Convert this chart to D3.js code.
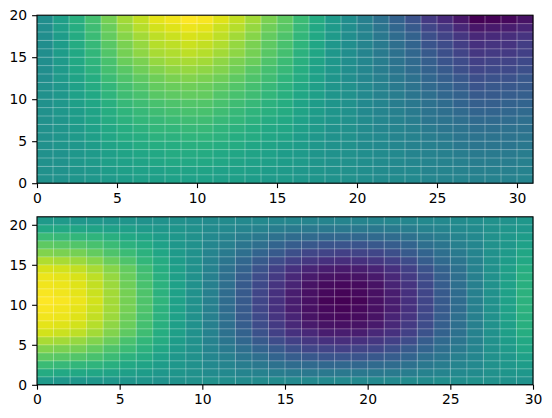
<!DOCTYPE html>
<html>
<head>
<meta charset="utf-8">
<script src="https://cdn.jsdelivr.net/npm/d3@7"></script>
<style>
  body { margin: 0; background: #ffffff; }
  svg { display: block; }
</style>
</head>
<body>
<div id="chart"></div>
<script>
// Cell values (0 = darkest purple, 100 = brightest yellow).
// Each array is one row of cells, listed from the bottom row (y = 0) upward.

// top panel: 31 columns x 20 rows
const topRow00 = [50,51,52,53,54,55,56,56,57,57,57,56,56,55,54,54,53,52,51,50,49,48,48,47,46,45,45,44,44,44,45];
const topRow01 = [50,51,52,53,55,56,57,57,58,58,58,57,57,56,55,54,53,52,51,50,49,48,47,47,45,45,44,43,43,43,44];
const topRow02 = [50,51,53,54,56,57,58,59,60,60,60,59,58,57,56,55,54,52,51,50,49,48,47,46,45,44,43,42,42,42,43];
const topRow03 = [50,51,53,54,56,58,59,60,61,61,61,60,59,58,57,55,54,52,51,50,49,48,47,45,44,43,42,41,41,41,42];
const topRow04 = [50,52,53,55,58,59,61,62,62,63,63,62,61,59,58,56,55,53,51,50,48,47,46,44,43,42,40,39,39,39,40];
const topRow05 = [50,52,54,56,59,61,62,64,64,65,65,64,62,61,59,58,55,53,51,50,48,47,45,44,42,41,39,38,38,38,39];
const topRow06 = [50,52,54,57,60,62,64,66,66,67,67,65,64,62,60,59,56,54,51,50,48,46,45,43,41,39,38,36,36,37,37];
const topRow07 = [50,52,55,58,61,64,66,67,68,69,69,67,66,64,61,60,57,54,52,50,48,46,44,42,39,38,36,34,34,35,36];
const topRow08 = [50,53,55,58,62,65,67,69,70,71,71,69,67,65,63,61,58,55,52,50,47,45,43,41,38,36,34,32,32,33,34];
const topRow09 = [50,53,56,59,63,67,69,71,72,73,73,71,69,67,64,62,58,55,52,50,47,45,42,40,37,35,32,30,30,31,32];
const topRow10 = [50,53,57,60,65,69,71,74,75,76,76,73,71,69,66,63,59,56,52,50,47,44,42,39,36,33,31,28,28,29,30];
const topRow11 = [50,53,57,61,66,70,73,76,77,78,77,75,73,70,67,64,60,56,52,50,47,44,41,38,34,32,29,26,27,27,28];
const topRow12 = [49,54,58,62,68,72,75,78,80,81,80,78,75,72,69,65,61,57,52,49,46,43,40,37,33,30,27,24,25,25,27];
const topRow13 = [49,54,59,64,70,74,78,81,83,84,83,81,78,74,70,67,62,57,53,49,46,42,39,35,31,28,24,21,22,22,24];
const topRow14 = [49,54,60,65,71,77,80,84,86,87,86,83,80,77,72,68,63,58,53,49,46,42,38,34,30,26,23,19,20,20,22];
const topRow15 = [49,55,60,66,73,79,83,87,88,90,89,86,83,79,74,70,64,59,53,49,45,41,37,33,28,24,20,16,17,17,19];
const topRow16 = [49,55,61,67,74,80,84,89,90,92,91,88,84,80,75,71,65,59,53,49,45,41,36,32,26,23,18,14,15,15,18];
const topRow17 = [49,55,61,68,76,82,86,90,92,94,93,90,86,82,76,72,66,60,54,49,45,40,35,31,24,20,16,11,12,13,15];
const topRow18 = [49,56,62,69,77,84,89,93,95,97,96,92,89,84,78,74,67,60,54,49,44,39,33,28,21,17,11,6,7,8,10];
const topRow19 = [49,56,63,70,79,86,91,96,98,100,99,95,91,86,80,75,68,61,54,49,43,37,31,25,17,12,6,0,1,2,5];

// bottom panel: 30 columns x 21 rows
const botRow00 = [54,53,53,53,53,52,52,51,51,50,50,49,48,48,48,47,47,47,47,47,47,47,48,48,49,49,50,50,51,51];
const botRow01 = [61,60,60,59,58,56,55,53,52,50,48,47,45,44,42,41,40,40,40,40,40,41,42,44,45,47,48,50,52,53];
const botRow02 = [68,67,66,65,63,60,58,55,53,50,47,45,42,40,37,35,34,33,33,33,34,35,37,40,42,45,47,50,53,55];
const botRow03 = [75,74,73,71,68,64,61,57,53,50,46,43,39,36,32,29,27,26,26,26,27,29,32,36,39,43,46,50,53,57];
const botRow04 = [81,80,79,76,72,68,64,59,54,50,45,41,36,32,28,24,21,20,19,20,21,24,28,32,36,41,45,50,54,59];
const botRow05 = [87,86,84,81,77,71,66,61,55,50,44,39,33,28,23,19,16,14,13,14,16,19,23,29,34,39,44,50,55,60];
const botRow06 = [93,92,90,86,81,75,69,62,56,50,44,37,31,25,19,14,11,8,8,8,11,14,19,25,31,37,44,50,56,62];
const botRow07 = [96,95,93,89,83,77,70,63,56,50,43,36,29,23,17,11,7,5,4,5,7,11,17,23,30,36,43,50,56,63];
const botRow08 = [98,97,95,91,85,78,71,64,57,50,43,36,28,22,15,10,5,3,2,3,5,10,15,22,29,36,43,50,57,63];
const botRow09 = [99,98,96,92,86,79,72,64,57,50,43,35,28,21,14,8,4,2,1,2,4,8,14,21,28,35,43,50,57,64];
const botRow10 = [100,99,97,93,86,79,72,65,57,50,43,35,28,21,14,8,4,1,0,1,4,8,14,21,28,35,43,50,57,64];
const botRow11 = [99,98,96,92,86,79,72,64,57,50,43,35,28,21,14,8,4,2,1,2,4,8,14,21,28,35,43,50,57,64];
const botRow12 = [98,97,95,91,85,78,71,64,57,50,43,36,28,22,15,10,5,3,2,3,5,10,15,22,29,36,43,50,57,63];
const botRow13 = [97,96,94,90,84,77,70,63,56,50,43,36,29,23,17,11,7,5,4,5,7,11,17,23,30,36,43,50,56,63];
const botRow14 = [94,93,91,87,82,76,69,62,56,50,44,37,31,25,19,14,10,8,7,8,10,14,19,25,31,37,44,50,56,62];
const botRow15 = [88,87,85,82,77,72,66,61,55,50,44,39,33,28,23,19,16,14,13,14,16,19,23,29,34,39,44,50,55,60];
const botRow16 = [81,80,79,76,72,68,64,59,54,50,45,41,36,32,28,24,21,20,19,20,21,24,28,32,36,41,45,50,54,59];
const botRow17 = [75,74,73,71,68,64,61,57,53,50,46,43,39,36,32,29,27,26,26,26,27,29,32,36,39,43,46,50,53,57];
const botRow18 = [68,67,66,65,63,60,58,55,53,50,47,45,42,40,37,35,34,33,33,33,34,35,37,40,42,45,47,50,53,55];
const botRow19 = [60,60,59,58,57,56,54,53,52,50,48,47,45,44,42,41,40,40,40,40,40,41,42,44,45,47,48,50,52,53];
const botRow20 = [54,54,53,53,52,52,51,51,50,49,48,48,47,47,46,46,45,45,45,45,45,46,46,47,47,48,49,50,51,53];

const topRows = [topRow00, topRow01, topRow02, topRow03, topRow04, topRow05, topRow06, topRow07, topRow08, topRow09,
                 topRow10, topRow11, topRow12, topRow13, topRow14, topRow15, topRow16, topRow17, topRow18, topRow19];
const botRows = [botRow00, botRow01, botRow02, botRow03, botRow04, botRow05, botRow06, botRow07, botRow08, botRow09,
                 botRow10, botRow11, botRow12, botRow13, botRow14, botRow15, botRow16, botRow17, botRow18, botRow19, botRow20];

const topXTicks = [0, 5, 10, 15, 20, 25, 30];
const topYTicks = [0, 5, 10, 15, 20];
const botXTicks = [0, 5, 10, 15, 20, 25, 30];
const botYTicks = [0, 5, 10, 15, 20];

(function () {
  "use strict";

  const W = 552, H = 418;
  const FONT = "'DejaVu Sans', 'Liberation Sans', sans-serif";
  const TICK = 4.9, PAD = 4.9;

  const svg = d3.select("#chart").append("svg")
    .attr("width", W).attr("height", H)
    .style("background", "#ffffff");

  function drawMesh(rows, box, xTicks, yTicks) {
    const nRows = rows.length, nCols = rows[0].length;
    const x = d3.scaleLinear().domain([0, nCols]).range([box.x0, box.x1]);
    const y = d3.scaleLinear().domain([0, nRows]).range([box.y1, box.y0]);
    const color = d3.scaleSequential(d3.interpolateViridis)
      .domain(d3.extent(rows.flat()));

    const g = svg.append("g");

    // flat-shaded cells
    const cells = rows.flatMap((row, r) => row.map((v, c) => ({ r, c, v })));
    g.append("g").selectAll("rect").data(cells).join("rect")
      .attr("x", d => x(d.c))
      .attr("y", d => y(d.r + 1))
      .attr("width", d => x(d.c + 1) - x(d.c) + 0.3)
      .attr("height", d => y(d.r) - y(d.r + 1) + 0.3)
      .attr("fill", d => color(d.v));

    // faint white cell edges
    const edges = g.append("g")
      .attr("stroke", "#ffffff").attr("stroke-opacity", 0.3).attr("stroke-width", 1);
    edges.selectAll("line.v").data(d3.range(1, nCols)).join("line")
      .attr("class", "v")
      .attr("x1", d => x(d)).attr("x2", d => x(d))
      .attr("y1", box.y0).attr("y2", box.y1);
    edges.selectAll("line.h").data(d3.range(1, nRows)).join("line")
      .attr("class", "h")
      .attr("y1", d => y(d)).attr("y2", d => y(d))
      .attr("x1", box.x0).attr("x2", box.x1);

    // axes
    const xAxis = g.append("g").attr("transform", `translate(0,${box.y1})`)
      .call(d3.axisBottom(x).tickValues(xTicks).tickSize(TICK).tickPadding(PAD).tickFormat(d3.format("d")));
    const yAxis = g.append("g").attr("transform", `translate(${box.x0},0)`)
      .call(d3.axisLeft(y).tickValues(yTicks).tickSize(TICK).tickPadding(PAD).tickFormat(d3.format("d")));
    [xAxis, yAxis].forEach(a => {
      a.select(".domain").remove();
      a.selectAll(".tick line").attr("stroke", "#000").attr("stroke-width", 1.1);
      a.selectAll(".tick text").attr("fill", "#000")
        .attr("font-family", FONT).attr("font-size", "13.9px");
    });

    // spines
    g.append("rect")
      .attr("x", box.x0).attr("y", box.y0)
      .attr("width", box.x1 - box.x0).attr("height", box.y1 - box.y0)
      .attr("fill", "none").attr("stroke", "#000").attr("stroke-width", 1.1);
  }

  drawMesh(topRows, { x0: 37, x1: 533, y0: 15.2, y1: 183.2 }, topXTicks, topYTicks);
  drawMesh(botRows, { x0: 37, x1: 533, y0: 216.8, y1: 384.8 }, botXTicks, botYTicks);
})();
</script>
</body>
</html>
